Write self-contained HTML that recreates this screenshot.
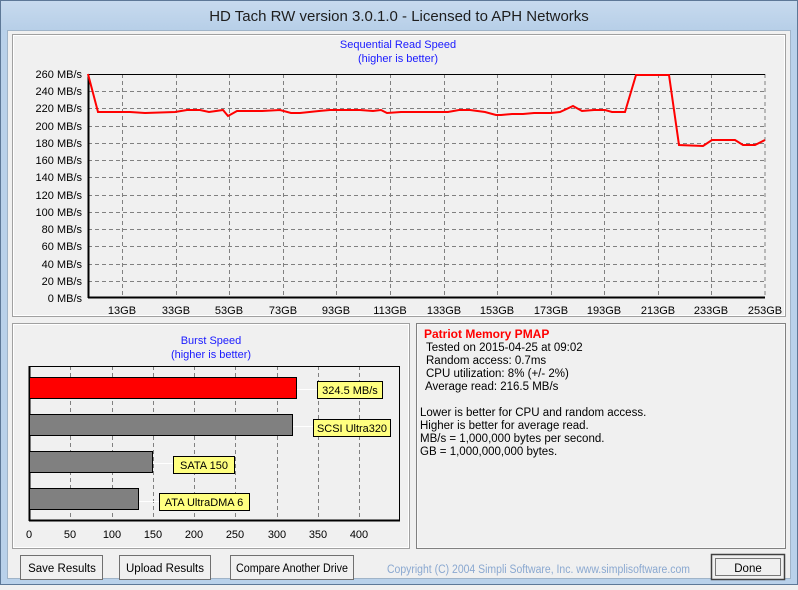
<!DOCTYPE html>
<html><head><meta charset="utf-8"><style>
body{margin:0;width:798px;height:585px;overflow:hidden;background:#f0f0f0;font-family:"Liberation Sans",sans-serif}
</style></head><body>
<svg width="798" height="585" viewBox="0 0 798 585" xmlns="http://www.w3.org/2000/svg" font-family="Liberation Sans, sans-serif">
<defs>
<linearGradient id="tb" x1="0" y1="0" x2="0" y2="1"><stop offset="0" stop-color="#c7daee"/><stop offset="1" stop-color="#b7cfe8"/></linearGradient>
</defs>
<rect x="0" y="0" width="798" height="585" fill="#b9d1ea"/>
<rect x="0.5" y="0.5" width="797" height="584" fill="none" stroke="#5d7897"/>
<rect x="1" y="1" width="796" height="29" fill="url(#tb)"/>
<text x="399" y="21" font-size="15" text-anchor="middle" fill="#1e1e1e">HD Tach RW version 3.0.1.0 - Licensed to APH Networks</text>
<rect x="7" y="30" width="784" height="549" fill="#f0f0f0"/>
<rect x="7.5" y="30.5" width="783" height="548" fill="none" stroke="#a0b4c8"/>

<rect x="12.5" y="34.5" width="773" height="282" fill="none" stroke="#a0a0a0"/>
<rect x="13.5" y="35.5" width="771" height="280" fill="none" stroke="#ffffff"/>
<text x="398" y="48" font-size="11" fill="#1a1aff" text-anchor="middle">Sequential Read Speed</text>
<text x="398" y="62" font-size="11" fill="#1a1aff" text-anchor="middle">(higher is better)</text>
<g stroke="#808080" stroke-dasharray="4,3" stroke-width="1">
<line x1="88" x2="765" y1="91.5" y2="91.5"/><line x1="88" x2="765" y1="108.5" y2="108.5"/><line x1="88" x2="765" y1="126.5" y2="126.5"/><line x1="88" x2="765" y1="143.5" y2="143.5"/><line x1="88" x2="765" y1="160.5" y2="160.5"/><line x1="88" x2="765" y1="177.5" y2="177.5"/><line x1="88" x2="765" y1="195.5" y2="195.5"/><line x1="88" x2="765" y1="212.5" y2="212.5"/><line x1="88" x2="765" y1="229.5" y2="229.5"/><line x1="88" x2="765" y1="246.5" y2="246.5"/><line x1="88" x2="765" y1="264.5" y2="264.5"/><line x1="88" x2="765" y1="281.5" y2="281.5"/>
<line y1="74" y2="298" x1="122.5" x2="122.5"/><line y1="74" y2="298" x1="176.5" x2="176.5"/><line y1="74" y2="298" x1="229.5" x2="229.5"/><line y1="74" y2="298" x1="283.5" x2="283.5"/><line y1="74" y2="298" x1="336.5" x2="336.5"/><line y1="74" y2="298" x1="390.5" x2="390.5"/><line y1="74" y2="298" x1="444.5" x2="444.5"/><line y1="74" y2="298" x1="497.5" x2="497.5"/><line y1="74" y2="298" x1="551.5" x2="551.5"/><line y1="74" y2="298" x1="604.5" x2="604.5"/><line y1="74" y2="298" x1="658.5" x2="658.5"/><line y1="74" y2="298" x1="711.5" x2="711.5"/><line y1="74" y2="298" x1="765" x2="765"/>
</g>
<line x1="88" x2="765" y1="74.5" y2="74.5" stroke="#000"/>
<line x1="88" x2="765" y1="297.5" y2="297.5" stroke="#000" stroke-width="2"/>
<line x1="88.5" x2="88.5" y1="74" y2="298" stroke="#000" stroke-width="2"/>
<g font-size="11" fill="#000" text-anchor="end">
<text x="82" y="78">260 MB/s</text><text x="82" y="95">240 MB/s</text><text x="82" y="112">220 MB/s</text><text x="82" y="130">200 MB/s</text><text x="82" y="147">180 MB/s</text><text x="82" y="164">160 MB/s</text><text x="82" y="181">140 MB/s</text><text x="82" y="199">120 MB/s</text><text x="82" y="216">100 MB/s</text><text x="82" y="233">80 MB/s</text><text x="82" y="250">60 MB/s</text><text x="82" y="268">40 MB/s</text><text x="82" y="285">20 MB/s</text><text x="82" y="302">0 MB/s</text>
</g>
<g font-size="11" fill="#000" text-anchor="middle">
<text x="122" y="314">13GB</text><text x="176" y="314">33GB</text><text x="229" y="314">53GB</text><text x="283" y="314">73GB</text><text x="336" y="314">93GB</text><text x="390" y="314">113GB</text><text x="444" y="314">133GB</text><text x="497" y="314">153GB</text><text x="551" y="314">173GB</text><text x="604" y="314">193GB</text><text x="658" y="314">213GB</text><text x="711" y="314">233GB</text><text x="765" y="314">253GB</text>
</g>
<polyline fill="none" stroke="#ff0000" stroke-width="2" points="88,74 98,112 130,112 145,113 175,112 187,110 200,110 209,112 216,111 223,110 228,116 237,111 262,111 280,110 291,113 300,113 319,111 330,110 360,110 373,111 381,110 387,113 401,112 421,112 448,112 459,110 470,110 485,112 496,115 501,115 512,114 523,114 534,113 551,113 560,112 573,106 582,111 594,110 605,110 612,112 625,112 636,75 669,75 679,145 703,146 712,140 735,140 743,145 755,145 765,140"/>

<rect x="12.5" y="323.5" width="397" height="225" fill="none" stroke="#a0a0a0"/>
<rect x="13.5" y="324.5" width="395" height="223" fill="none" stroke="#ffffff"/>
<text x="211" y="344" font-size="11" fill="#1a1aff" text-anchor="middle">Burst Speed</text>
<text x="211" y="358" font-size="11" fill="#1a1aff" text-anchor="middle">(higher is better)</text>
<g stroke="#808080" stroke-dasharray="4,3">
<line x1="70.5" x2="70.5" y1="366" y2="521"/><line x1="112.5" x2="112.5" y1="366" y2="521"/><line x1="153.5" x2="153.5" y1="366" y2="521"/><line x1="194.5" x2="194.5" y1="366" y2="521"/><line x1="235.5" x2="235.5" y1="366" y2="521"/><line x1="277.5" x2="277.5" y1="366" y2="521"/><line x1="318.5" x2="318.5" y1="366" y2="521"/><line x1="359.5" x2="359.5" y1="366" y2="521"/>
</g>
<rect x="29.5" y="366.5" width="370" height="154" fill="none" stroke="#000"/>
<line x1="29" x2="400" y1="520.5" y2="520.5" stroke="#000" stroke-width="2"/>
<line x1="29.5" x2="29.5" y1="366" y2="521" stroke="#000" stroke-width="2"/>
<g stroke="#fff"><line x1="296" x2="317" y1="389.5" y2="389.5"/><line x1="292" x2="313" y1="426.5" y2="426.5"/><line x1="152" x2="173" y1="463.5" y2="463.5"/><line x1="138" x2="159" y1="501.5" y2="501.5"/></g>
<rect x="29.5" y="377.5" width="267" height="21" fill="#ff0000" stroke="#000"/>
<rect x="29.5" y="414.5" width="263" height="21" fill="#808080" stroke="#000"/>
<rect x="29.5" y="451.5" width="123" height="21" fill="#808080" stroke="#000"/>
<rect x="29.5" y="488.5" width="109" height="21" fill="#808080" stroke="#000"/>
<g font-size="11" fill="#000">
<rect x="317.5" y="381.5" width="65" height="17" fill="#ffff80" stroke="#000"/><text x="350" y="394" text-anchor="middle">324.5 MB/s</text>
<rect x="313.5" y="419.5" width="77" height="17" fill="#ffff80" stroke="#000"/><text x="352" y="432" text-anchor="middle" textLength="70" lengthAdjust="spacingAndGlyphs">SCSI Ultra320</text>
<rect x="173.5" y="456.5" width="61" height="17" fill="#ffff80" stroke="#000"/><text x="204" y="469" text-anchor="middle">SATA 150</text>
<rect x="159.5" y="493.5" width="90" height="17" fill="#ffff80" stroke="#000"/><text x="204" y="506" text-anchor="middle">ATA UltraDMA 6</text>
</g>
<g font-size="11" fill="#000" text-anchor="middle">
<text x="29" y="538">0</text><text x="70" y="538">50</text><text x="112" y="538">100</text><text x="153" y="538">150</text><text x="194" y="538">200</text><text x="235" y="538">250</text><text x="277" y="538">300</text><text x="318" y="538">350</text><text x="359" y="538">400</text>
</g>

<rect x="416.5" y="323.5" width="369" height="225" fill="none" stroke="#808080"/>
<rect x="417.5" y="324.5" width="367" height="223" fill="none" stroke="#ffffff" opacity="0.5"/>
<text x="424" y="338" font-size="12" font-weight="bold" fill="#ff0000">Patriot Memory PMAP</text>
<g font-size="11.5" fill="#000">
<text x="426" y="351">Tested on 2015-04-25 at 09:02</text>
<text x="426" y="364">Random access: 0.7ms</text>
<text x="426" y="377">CPU utilization: 8% (+/- 2%)</text>
<text x="425" y="390">Average read: 216.5 MB/s</text>
<text x="420" y="416">Lower is better for CPU and random access.</text>
<text x="420" y="429">Higher is better for average read.</text>
<text x="420" y="442">MB/s = 1,000,000 bytes per second.</text>
<text x="420" y="455">GB = 1,000,000,000 bytes.</text>
</g>

<g font-size="11.5" fill="#000" text-anchor="middle">
<rect x="20.5" y="555.5" width="82" height="24" fill="#f0f0f0" stroke="#707070"/>
<text x="62" y="572">Save Results</text>
<rect x="119.5" y="555.5" width="91" height="24" fill="#f0f0f0" stroke="#707070"/>
<text x="165" y="572">Upload Results</text>
<rect x="230.5" y="555.5" width="123" height="24" fill="#f0f0f0" stroke="#707070"/>
<text x="292" y="572" textLength="112" lengthAdjust="spacingAndGlyphs">Compare Another Drive</text>
<rect x="711.5" y="554.5" width="73" height="25" fill="#f0f0f0" stroke="#404040" stroke-width="1.5"/>
<rect x="715.5" y="558.5" width="65" height="17" fill="none" stroke="#000" stroke-dasharray="1,1"/>
<text x="748" y="572">Done</text>
</g>
<text x="387" y="573" font-size="11.5" fill="#8aa8d0" textLength="303" lengthAdjust="spacingAndGlyphs">Copyright (C) 2004 Simpli Software, Inc. www.simplisoftware.com</text>
</svg>
</body></html>
